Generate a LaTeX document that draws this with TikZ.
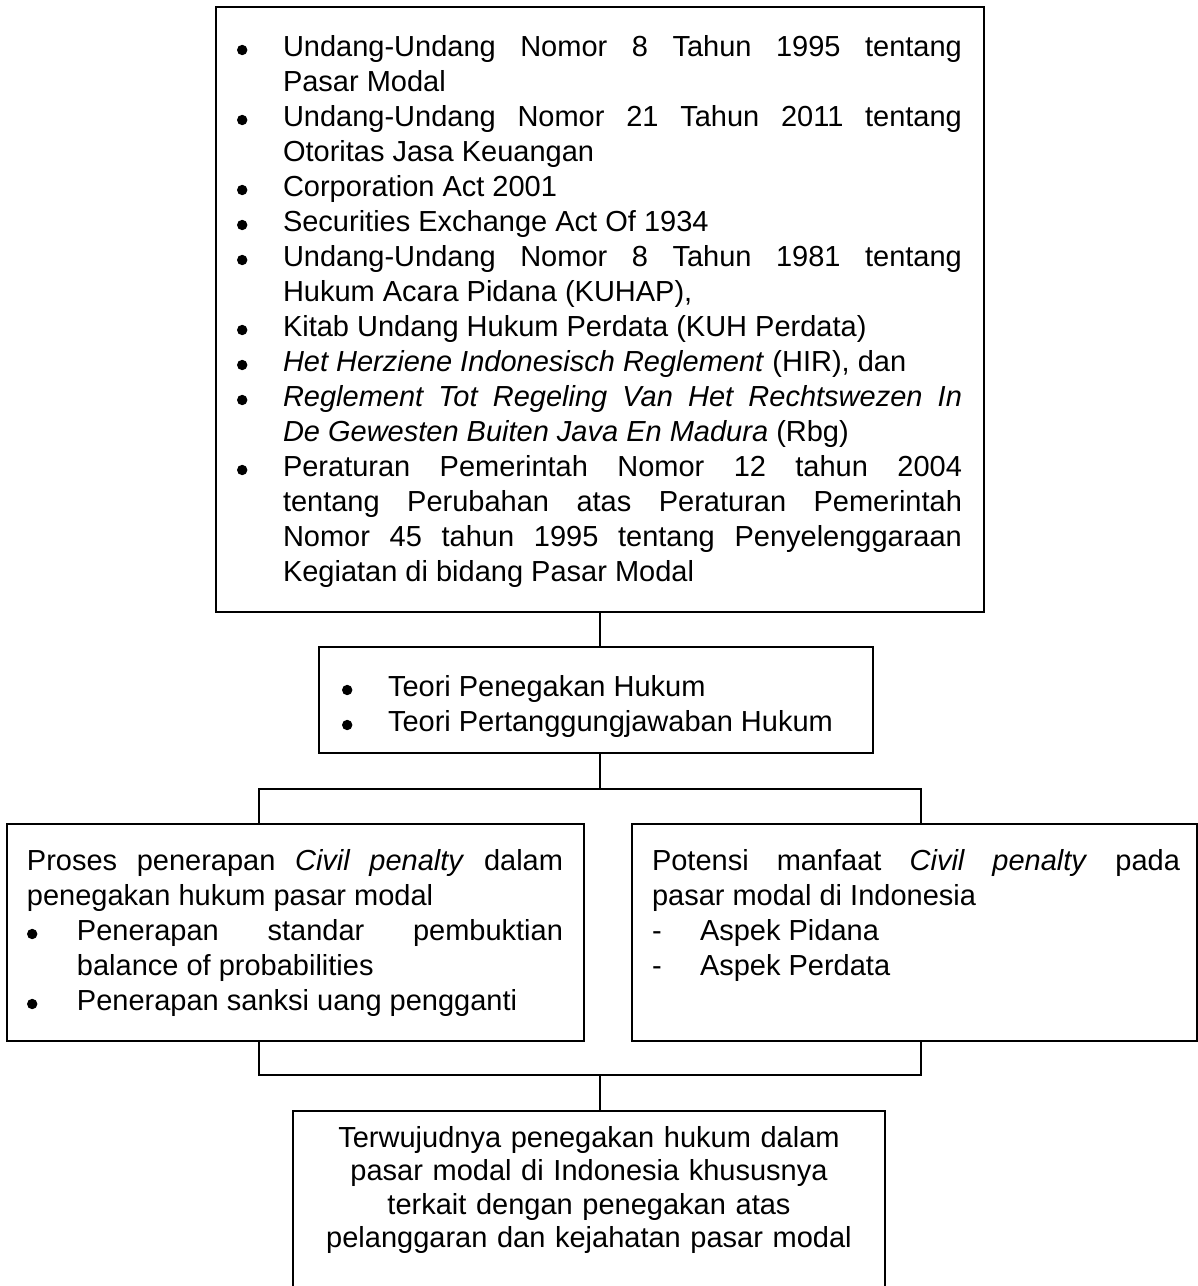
\documentclass[tikz,border=0pt]{standalone}
\usepackage{fontspec}
\setmainfont{Liberation Sans}
\tolerance=10000
\hbadness=10000
\hyphenpenalty=10000
\exhyphenpenalty=10000
\newcommand\bdot{\tikz[baseline=-6pt]\fill (0pt,0pt) circle[radius=5.2pt];}
\newcommand\bitem[2]{\par\noindent\hangindent=#1\hangafter=1\makebox[#1][l]{\bdot}#2\par}
\newcommand\ditem[2]{\par\noindent\hangindent=#1\hangafter=1\makebox[#1][l]{-}#2\par}
\tikzset{
  box/.style={draw, line width=1.3pt, inner sep=0pt, outer sep=0pt, anchor=north west},
  conn/.style={line width=1.3pt},
  txt/.style={inner sep=0pt, outer sep=0pt, anchor=north west, align=justify,
    font=\fontsize{29pt}{35pt}\selectfont},
}
\begin{document}
\begin{tikzpicture}[x=1pt,y=-1pt]
\fill[white] (0,0) rectangle (1198,1286);
\useasboundingbox (0,0) rectangle (1198,1286);

% boxes
\node[box, minimum width=768pt, minimum height=605pt] (top) at (216,7) {};
\node[box, minimum width=554pt, minimum height=106pt] (mid) at (319,647) {};
\node[box, minimum width=577pt, minimum height=217pt] (left) at (7,824) {};
\node[box, minimum width=565pt, minimum height=217pt] (right) at (632,824) {};
\node[box, minimum width=592pt, minimum height=195pt] (bot) at (293,1111) {};

% texts
\node[txt, text width=725pt] (toptext) at (237,21) {%
\bitem{46pt}{\strut Undang-Undang Nomor 8 Tahun 1995 tentang\linebreak Pasar Modal}%
\bitem{46pt}{Undang-Undang Nomor 21 Tahun 2011 tentang\linebreak Otoritas Jasa Keuangan}%
\bitem{46pt}{Corporation Act 2001}%
\bitem{46pt}{Securities Exchange Act Of 1934}%
\bitem{46pt}{Undang-Undang Nomor 8 Tahun 1981 tentang\linebreak Hukum Acara Pidana (KUHAP),}%
\bitem{46pt}{Kitab Undang Hukum Perdata (KUH Perdata)}%
\bitem{46pt}{\textit{Het Herziene Indonesisch Reglement} (HIR), dan}%
\bitem{46pt}{\textit{Reglement Tot Regeling Van Het Rechtswezen In\linebreak De Gewesten Buiten Java En Madura} (Rbg)}%
\bitem{46pt}{Peraturan Pemerintah Nomor 12 tahun 2004\linebreak tentang Perubahan atas Peraturan Pemerintah\linebreak Nomor 45 tahun 1995 tentang Penyelenggaraan\linebreak Kegiatan di bidang Pasar Modal}%
};

\node[txt, text width=500pt] (midtext) at (342,661) {%
\bitem{46pt}{\strut Teori Penegakan Hukum}%
\bitem{46pt}{Teori Pertanggungjawaban Hukum}%
};

\node[txt, text width=536pt] (lefttext) at (27,835) {%
\par\noindent\strut Proses penerapan \textit{Civil penalty} dalam\linebreak penegakan hukum pasar modal\par
\bitem{50pt}{Penerapan standar pembuktian\linebreak balance of probabilities}%
\bitem{50pt}{Penerapan sanksi uang pengganti}%
};

\node[txt, text width=528pt] (righttext) at (652,835) {%
\par\noindent\strut Potensi manfaat \textit{Civil penalty} pada\linebreak pasar modal di Indonesia\par
\ditem{48pt}{Aspek Pidana}%
\ditem{48pt}{Aspek Perdata}%
};

\node[txt, align=center, text width=592pt, font=\fontsize{29pt}{33.5pt}\selectfont] (bottext) at (293,1124) {%
\strut Terwujudnya penegakan hukum dalam\\
pasar modal di Indonesia khususnya\\
terkait dengan penegakan atas\\
pelanggaran dan kejahatan pasar modal};

% connectors
\coordinate (jl) at (259,789);
\coordinate (jr) at (921,789);
\coordinate (kl) at (259,1075);
\coordinate (kr) at (921,1075);
\draw[conn] (top.south) -- (top.south |- mid.north);
\draw[conn] (top.south |- mid.south) -- (top.south |- jl);
\draw[conn] (jl |- left.north) -- (jl) -- (jr) -- (jr |- right.north);
\draw[conn] (jl |- left.south) -- (kl) -- (kr) -- (kr |- right.south);
\draw[conn] (top.south |- kl) -- (top.south |- bot.north);
\end{tikzpicture}
\end{document}
